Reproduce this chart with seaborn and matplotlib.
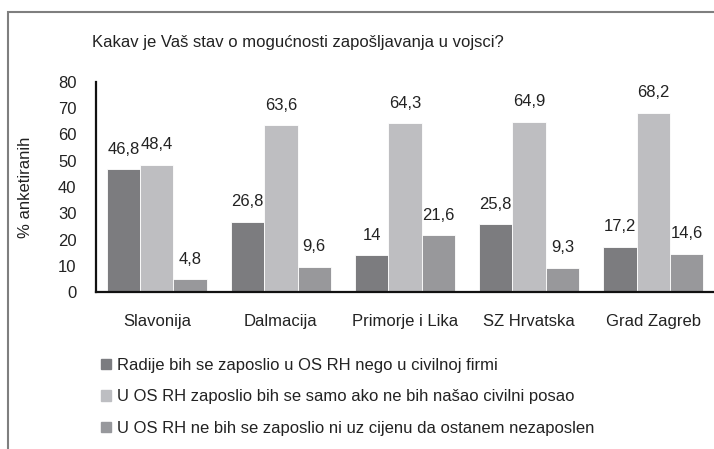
import numpy as np
import pandas as pd
import matplotlib
matplotlib.use("Agg")
import matplotlib.pyplot as plt
import matplotlib.patches as mpatches
import seaborn as sns

regije = ["Slavonija", "Dalmacija", "Primorje i Lika", "SZ Hrvatska", "Grad Zagreb"]
odgovori = [
    "Radije bih se zaposlio u OS RH nego u civilnoj firmi",
    "U OS RH zaposlio bih se samo ako ne bih našao civilni posao",
    "U OS RH ne bih se zaposlio ni uz cijenu da ostanem nezaposlen",
]
radije = [46.8, 26.8, 14, 25.8, 17.2]
samo_ako = [48.4, 63.6, 64.3, 64.9, 68.2]
ne_bih = [4.8, 9.6, 21.6, 9.3, 14.6]
boje = ["#7b7c80", "#bdbec2", "#97989c"]

df = pd.DataFrame({
    "regija": regije * 3,
    "odgovor": np.repeat(odgovori, len(regije)),
    "postotak": radije + samo_ako + ne_bih,
})

sns.set_theme(style="white")
plt.rcParams["font.family"] = ["Liberation Sans", "DejaVu Sans"]
fs = 12

fig = plt.figure(figsize=(7.14, 4.49), dpi=100)
ax = fig.add_axes([96 / 714, 1 - 292 / 449, 1 - 96 / 714, (292 - 82) / 449])

sns.barplot(data=df, x="regija", y="postotak", hue="odgovor", order=regije,
            hue_order=odgovori, palette=boje, width=0.806, gap=0,
            edgecolor="white", linewidth=0.6, ax=ax, legend=False)

def fmt(v):
    return f"{v:g}".replace(".", ",")

for cont in ax.containers:
    ax.bar_label(cont, labels=[fmt(b.get_height()) for b in cont],
                 padding=9, fontsize=fs, color="#222222")

ax.set_xlim(-0.49, 4.49)
ax.set_ylim(0, 80)
ax.set_yticks(range(0, 81, 10))
ax.set_xlabel("")
ax.set_ylabel("% anketiranih", fontsize=fs, color="#222222")
ax.yaxis.set_label_coords(-63 / 618, 0.5)
ax.tick_params(axis="both", length=0, labelsize=fs, labelcolor="#222222")
ax.tick_params(axis="x", pad=16)
ax.tick_params(axis="y", pad=14)
for s in ["top", "right"]:
    ax.spines[s].set_visible(False)
for s in ["left", "bottom"]:
    ax.spines[s].set_color("#111111")
    ax.spines[s].set_linewidth(1.6)

fig.text(92 / 714, 1 - 42 / 449, "Kakav je Vaš stav o mogućnosti zapošljavanja u vojsci?",
         fontsize=fs, color="#222222", va="center", ha="left")

handles = [mpatches.Patch(color=c, label=l) for c, l in zip(boje, odgovori)]
fig.legend(handles=handles, loc="upper left", bbox_to_anchor=(86 / 714, 1 - 343 / 449),
           frameon=False, fontsize=fs, labelspacing=0.98, handlelength=0.6,
           handleheight=0.6, handletextpad=0.35, labelcolor="#222222")

fig.patches.append(mpatches.Rectangle((8 / 714, -0.1), 1.2, 1.1 - 12 / 449,
                                      transform=fig.transFigure, fill=False,
                                      edgecolor="#7f7f7f", linewidth=1.5))

fig.savefig("out.png", dpi=100)
